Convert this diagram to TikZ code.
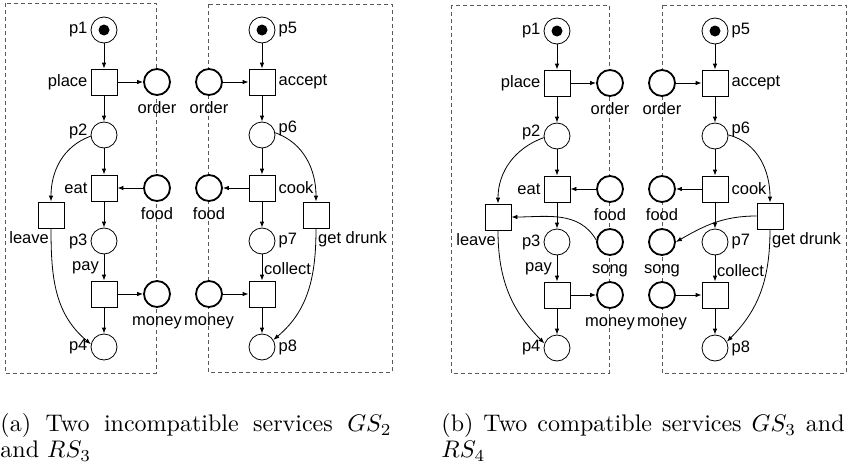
\documentclass[tikz,border=0pt]{standalone}
\usepackage{fontspec}
\setsansfont{Liberation Sans}
\usetikzlibrary{arrows.meta}

\begin{document}
\begin{tikzpicture}[x=1pt,y=-1pt,>={Latex[length=6pt,width=4.5pt]},
    every label/.style={font=\sffamily\fontsize{16.5}{18}\selectfont,inner sep=2pt},
    label distance=1pt,
    plc/.style={circle,draw,fill=white,minimum size=26pt,inner sep=0pt,line width=0.8pt},
    io/.style={plc,line width=1.8pt},
    tr/.style={draw,fill=white,minimum size=26pt,inner sep=0pt,line width=0.8pt},
    flow/.style={->,line width=0.8pt},
    under/.style={label={[anchor=base,yshift=-17pt]below:#1}},
    svcbox/.style={draw=black!65,dash pattern=on 4pt off 3pt,line width=0.6pt},
    subcap/.style={anchor=north west,inner sep=0pt,scale=2.4,transform shape,align=justify,
      font=\fontsize{10}{10.9}\selectfont}]
    \useasboundingbox(0,0)rectangle(847,463);
    % (a) incompatible
    \begin{scope}[name prefix=a-]
      \draw[svcbox](5,3)rectangle(156,373);
      \draw[svcbox](208,4)rectangle(392,372);
      \node[plc,label=left:p1](p1)at(104,30){};
      \node[tr,label=left:place](place)at(104,82){};
      \node[io,under=order](order)at(157,82){};
      \node[plc,label={[yshift=4pt]left:p2}](p2)at(104,135){};
      \node[tr,label=left:eat](eat)at(104,188){};
      \node[io,under=food](food)at(157,188){};
      \node[tr,label={[anchor=north east]below:leave}](leave)at(51,215){};
      \node[plc,label=left:p3](p3)at(104,241){};
      \node[tr,label={[anchor=south east,xshift=-3pt,yshift=3pt]above:pay}](pay)at(104,294){};
      \node[io,under=money](money)at(157,294){};
      \node[plc,label=left:p4](p4)at(104,347){};
      \node[plc,label=right:p5](p5)at(262,30){};
      \node[tr,label=right:accept](accept)at(262,82){};
      \node[io,under=order](rorder)at(209,82){};
      \node[plc,label={[yshift=7pt]right:p6}](p6)at(262,135){};
      \node[tr,label=right:cook](cook)at(262,188){};
      \node[io,under=food](rfood)at(209,188){};
      \node[tr,label={[anchor=north west]below:get drunk}](drunk)at(316,215){};
      \node[plc,label=right:p7](p7)at(262,241){};
      \node[tr,label={[anchor=south west,yshift=3pt]above:collect}](collect)at(262,294){};
      \node[io,under=money](rmoney)at(209,294){};
      \node[plc,label=right:p8](p8)at(262,347){};
      \fill(p1)circle(5.5pt);
      \fill(p5)circle(5.5pt);
      \foreach \s/\t in {p1/place,place/order,place/p2,p2/eat,food/eat,eat/p3,p3/pay,pay/money,pay/p4,
        p5/accept,rorder/accept,accept/p6,p6/cook,cook/rfood,cook/p7,p7/collect,rmoney/collect,collect/p8}
        \draw[flow](\s)--(\t);
      \draw[flow](p2.185)to[out=200,in=90](leave.north);
      \draw[flow](leave.south)to[out=-90,in=140](p4.168);
      \draw[flow](p6.10)to[out=-20,in=90](drunk.north);
      \draw[flow](drunk.south)to[out=-90,in=40](p8.32);
      \node[subcap,text width=163pt](capa)at(0,413){(a) Two incompatible services $GS_2$ and $RS_3$};
    \end{scope}
    % (b) compatible
    \begin{scope}[shift={(453,1)},name prefix=b-]
      \draw[svcbox](-2,4)rectangle(156,372);
      \draw[svcbox](209,4)rectangle(393,372);
      \node[plc,label=left:p1](p1)at(104,30){};
      \node[tr,label=left:place](place)at(104,82){};
      \node[io,under=order](order)at(157,82){};
      \node[plc,label={[yshift=4pt]left:p2}](p2)at(104,135){};
      \node[tr,label=left:eat](eat)at(104,188){};
      \node[io,under=food](food)at(157,188){};
      \node[tr,label={[anchor=north east]below:leave}](leave)at(45,216){};
      \node[plc,label=left:p3](p3)at(104,241){};
      \node[io,under=song](song)at(157,241){};
      \node[tr,label={[anchor=south east,xshift=-3pt,yshift=3pt]above:pay}](pay)at(104,294){};
      \node[io,under=money](money)at(157,294){};
      \node[plc,label=left:p4](p4)at(104,347){};
      \node[plc,label=right:p5](p5)at(262,30){};
      \node[tr,label=right:accept](accept)at(262,82){};
      \node[io,under=order](rorder)at(209,82){};
      \node[plc,label={[yshift=7pt]right:p6}](p6)at(262,135){};
      \node[tr,label=right:cook](cook)at(262,188){};
      \node[io,under=food](rfood)at(209,188){};
      \node[tr,label={[anchor=north west]below:get drunk}](drunk)at(317,215){};
      \node[plc,label=right:p7](p7)at(262,241){};
      \node[io,under=song](rsong)at(209,241){};
      \node[tr,label={[anchor=south west,yshift=2pt]above:collect}](collect)at(262,294){};
      \node[io,under=money](rmoney)at(209,294){};
      \node[plc,label=right:p8](p8)at(262,347){};
      \fill(p1)circle(5.5pt);
      \fill(p5)circle(5.5pt);
      \foreach \s/\t in {p1/place,place/order,place/p2,p2/eat,food/eat,eat/p3,p3/pay,pay/money,pay/p4,
        p5/accept,rorder/accept,accept/p6,p6/cook,cook/rfood,cook/p7,p7/collect,rmoney/collect,collect/p8}
        \draw[flow](\s)--(\t);
      \draw[flow](p2.187)to[out=200,in=90](leave.north);
      \draw[flow](leave.south)to[out=-90,in=135](p4.160);
      \draw[flow](p6.5)to[out=-15,in=90](drunk.north);
      \draw[flow](drunk.south)to[out=-90,in=45](p8.28);
      \draw[flow](song.172)to[out=120,in=0](leave.east);
      \draw[flow](drunk.west)to[out=180,in=30](rsong.east);
      \node[subcap,text width=168pt](capb)at(-12,412){(b) Two compatible services $GS_3$ and $RS_4$};
    \end{scope}
  \end{tikzpicture}
\end{document}
